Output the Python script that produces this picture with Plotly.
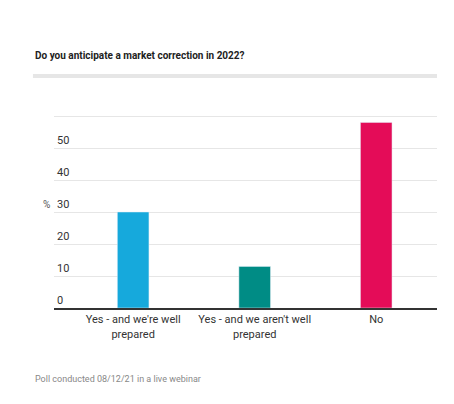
import plotly.graph_objects as go

categories = ["Yes - and we're well<br>prepared", "Yes - and we aren't well<br>prepared", "No"]
values = [30, 13, 58]
colors = ["#16a9dc", "#008c85", "#e40c58"]
y_ticks = [0, 10, 20, 30, 40, 50, 60]

fig = go.Figure(go.Bar(x=categories, y=values, marker_color=colors, width=0.26))

fig.update_layout(
    width=454, height=404,
    margin={"l": 46, "r": 25, "t": 100, "b": 104},
    plot_bgcolor="white", paper_bgcolor="white",
    font={"family": "Roboto", "color": "#333", "size": 11},
    showlegend=False,
)
fig.update_yaxes(
    range=[0, 62.5], tickvals=y_ticks, ticklabelposition="inside top",
    gridcolor="#e6e6e6", zeroline=False, showline=False, automargin=False,
    tickfont={"size": 11, "color": "#333"},
)
fig.update_xaxes(showline=True, linecolor="#333", linewidth=2, automargin=False,
                 tickfont={"size": 11, "color": "#333"})

fig.add_annotation(text="<b>Do you anticipate a market correction in 2022?</b>",
                   xref="paper", yref="paper", x=-0.055, y=1.265,
                   xanchor="left", yanchor="middle", showarrow=False,
                   font={"size": 10, "color": "#222"})
fig.add_shape(type="line", xref="paper", yref="paper", x0=-0.055, x1=1.0,
              y0=1.16, y1=1.16, line={"color": "#e6e6e6", "width": 4})
fig.add_annotation(text="%", xref="paper", yref="paper", x=-0.035, y=0.52,
                   showarrow=False, font={"size": 10, "color": "#555"})
fig.add_annotation(text="Poll conducted 08/12/21 in a live webinar",
                   xref="paper", yref="paper", x=-0.055, y=-0.355,
                   xanchor="left", yanchor="middle", showarrow=False,
                   font={"size": 9, "color": "#888"})

fig.write_html("out.html")
